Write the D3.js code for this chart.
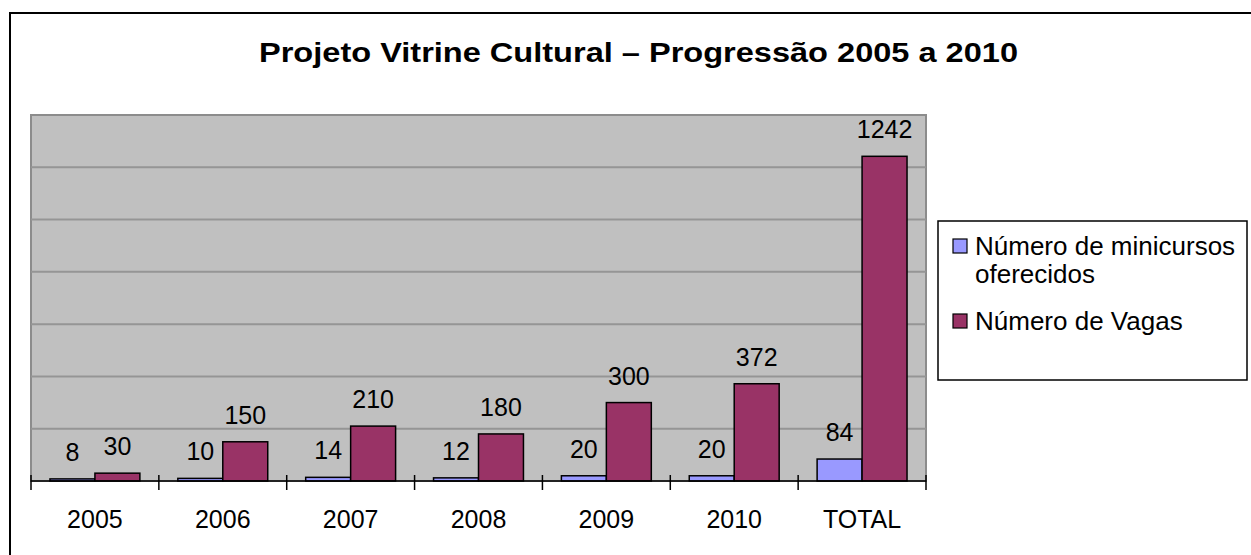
<!DOCTYPE html>
<html lang="pt">
<head>
  <meta charset="UTF-8">
  <title>Projeto Vitrine Cultural</title>
  <style>
    body { margin: 0; background: #fff; }
    svg text { font-family: "Liberation Sans", Arial, sans-serif; fill: #000; }
    .title { font-size: 28px; font-weight: bold; }
    .val { font-size: 25px; text-anchor: middle; }
    .cat { font-size: 25px; text-anchor: middle; }
    .leg { font-size: 26px; }
  </style>
</head>
<body>
  <div id="chart"></div>
  <script src="https://d3js.org/d3.v7.min.js"></script>
  <script>
    // data
    const categories = ["2005", "2006", "2007", "2008", "2009", "2010", "TOTAL"];
    const minicursos = [8, 10, 14, 12, 20, 20, 84];
    const vagas = [30, 150, 210, 180, 300, 372, 1242];
    const seriesNames = ["Número de minicursos oferecidos", "Número de Vagas"];
    const seriesColors = ["#9999ff", "#993366"];
    const gridTicks = [0, 200, 400, 600, 800, 1000, 1200, 1400];

    const W = 1251, H = 555;
    const plot = { left: 31, right: 926, top: 115, bottom: 481 };

    const svg = d3.select('#chart').append('svg')
      .attr('width', W).attr('height', H);

    // outer chart frame (only top and left edges fall inside the picture)
    svg.append('rect')
      .attr('x', 10).attr('y', 13)
      .attr('width', W + 20).attr('height', H + 20)
      .attr('fill', '#fff').attr('stroke', '#000').attr('stroke-width', 2);

    svg.append('text')
      .attr('class', 'title')
      .attr('x', 259).attr('y', 62)
      .attr('textLength', 759)
      .attr('lengthAdjust', 'spacingAndGlyphs')
      .text('Projeto Vitrine Cultural – Progressão 2005 a 2010');

    const x = d3.scaleBand()
      .domain(categories)
      .range([plot.left, plot.right])
      .paddingInner(0).paddingOuter(0);

    const xs = d3.scaleBand()
      .domain([0, 1])
      .range([0, x.bandwidth()])
      .paddingOuter(0.211 * 2).paddingInner(0);

    const y = d3.scaleLinear()
      .domain([0, 1400])
      .range([plot.bottom, plot.top]);

    // plot area
    svg.append('rect')
      .attr('x', plot.left).attr('y', plot.top)
      .attr('width', plot.right - plot.left).attr('height', plot.bottom - plot.top)
      .attr('fill', '#c0c0c0').attr('stroke', '#8c8c8c').attr('stroke-width', 2);

    svg.append('g').selectAll('line')
      .data(gridTicks.slice(1, -1))
      .join('line')
      .attr('x1', plot.left).attr('x2', plot.right)
      .attr('y1', d => y(d)).attr('y2', d => y(d))
      .attr('stroke', '#959595').attr('stroke-width', 2);

    const rows = categories.map((c, i) => ({ cat: c, vals: [minicursos[i], vagas[i]] }));

    const groups = svg.append('g').selectAll('g')
      .data(rows)
      .join('g')
      .attr('transform', d => `translate(${x(d.cat)},0)`);

    groups.selectAll('rect')
      .data(d => d.vals.map((v, k) => ({ v, k })))
      .join('rect')
      .attr('x', d => xs(d.k))
      .attr('y', d => y(d.v))
      .attr('width', xs.bandwidth())
      .attr('height', d => y(0) - y(d.v))
      .attr('fill', d => seriesColors[d.k])
      .attr('stroke', '#000').attr('stroke-width', 1.5);

    groups.selectAll('text')
      .data(d => d.vals.map((v, k) => ({ v, k })))
      .join('text')
      .attr('class', 'val')
      .attr('x', d => xs(d.k) + xs.bandwidth() / 2)
      .attr('y', d => y(d.v) - 18)
      .text(d => d.v);

    // category axis
    const axis = svg.append('g').attr('transform', `translate(0,${plot.bottom})`);
    axis.append('line')
      .attr('x1', plot.left).attr('x2', plot.right)
      .attr('stroke', '#000').attr('stroke-width', 1.5);
    const edges = categories.map(c => x(c)).concat([plot.right]);
    axis.selectAll('.tk')
      .data(edges)
      .join('line')
      .attr('class', 'tk')
      .attr('x1', d => d).attr('x2', d => d)
      .attr('y1', -6).attr('y2', 9)
      .attr('stroke', '#000').attr('stroke-width', 1.5);
    axis.selectAll('.cat')
      .data(categories)
      .join('text')
      .attr('class', 'cat')
      .attr('x', d => x(d) + x.bandwidth() / 2)
      .attr('y', 47)
      .text(d => d);

    // legend
    const leg = svg.append('g');
    leg.append('rect')
      .attr('x', 938).attr('y', 221)
      .attr('width', 309).attr('height', 159)
      .attr('fill', '#fff').attr('stroke', '#000').attr('stroke-width', 1.5);

    const legLines = [["Número de minicursos", "oferecidos"], ["Número de Vagas"]];
    const legBase = [255, 330];
    legLines.forEach((lines, k) => {
      leg.append('rect')
        .attr('x', 953).attr('y', legBase[k] - 16)
        .attr('width', 14).attr('height', 14)
        .attr('fill', seriesColors[k]).attr('stroke', '#000').attr('stroke-width', 1.2);
      const t = leg.append('text').attr('class', 'leg')
        .attr('x', 975).attr('y', legBase[k]);
      lines.forEach((ln, j) => {
        t.append('tspan').attr('x', 975).attr('dy', j === 0 ? 0 : 28).text(ln);
      });
    });
  </script>
</body>
</html>
